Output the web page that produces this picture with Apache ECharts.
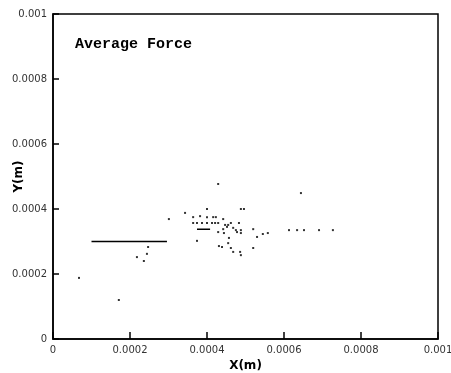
<!DOCTYPE html>
<html>
<head>
<meta charset="utf-8">
<script src="https://cdn.jsdelivr.net/npm/echarts@6/dist/echarts.min.js"></script>
<style>html,body{margin:0;padding:0;background:#fff}#c{width:451px;height:373px}</style>
</head>
<body>
<div id="c"></div>
<script>
var title = 'Average Force';
var xName = 'X(m)';
var yName = 'Y(m)';
var xTickLabels = ['0', '0.0002', '0.0004', '0.0006', '0.0008', '0.001'];
var yTickLabels = ['0', '0.0002', '0.0004', '0.0006', '0.0008', '0.001'];

// scattered force points [x, y]
var forcePoints = [
  [0.000429, 0.000477], [0.000343, 0.000388], [0.000301, 0.000369], [0.000400, 0.000400],
  [0.000488, 0.000400], [0.000496, 0.000400], [0.000364, 0.000375], [0.000382, 0.000378],
  [0.000400, 0.000375], [0.000416, 0.000375], [0.000423, 0.000375], [0.000442, 0.000369],
  [0.000364, 0.000357], [0.000374, 0.000357], [0.000387, 0.000357], [0.000400, 0.000357],
  [0.000413, 0.000357], [0.000421, 0.000357], [0.000429, 0.000357], [0.000462, 0.000357],
  [0.000483, 0.000357], [0.000447, 0.000351], [0.000452, 0.000345], [0.000455, 0.000351],
  [0.000442, 0.000338], [0.000468, 0.000342], [0.000475, 0.000335], [0.000478, 0.000329],
  [0.000488, 0.000335], [0.000488, 0.000326], [0.000520, 0.000338], [0.000558, 0.000326],
  [0.000545, 0.000323], [0.000530, 0.000314], [0.000429, 0.000329], [0.000444, 0.000326],
  [0.000457, 0.000311], [0.000455, 0.000295], [0.000374, 0.000302], [0.000431, 0.000286],
  [0.000439, 0.000283], [0.000462, 0.000280], [0.000468, 0.000268], [0.000486, 0.000268],
  [0.000488, 0.000258], [0.000520, 0.000280], [0.000644, 0.000449], [0.000613, 0.000335],
  [0.000634, 0.000335], [0.000652, 0.000335], [0.000691, 0.000335], [0.000727, 0.000335],
  [0.000247, 0.000283], [0.000244, 0.000262], [0.000218, 0.000252], [0.000236, 0.000240],
  [0.0000675, 0.000188], [0.000171, 0.000120]
];
// short horizontal segments
var segmentA = [[0.000100, 0.000300], [0.000296, 0.000300]];
var segmentB = [[0.000374, 0.000338], [0.000408, 0.000338]];

function fmt(labels) {
  return function (v) {
    var i = Math.round(v / 0.0002);
    return labels[i] !== undefined ? labels[i] : '';
  };
}

var chart = echarts.init(document.getElementById('c'));
chart.setOption({
  animation: false,
  backgroundColor: '#fff',
  graphic: [{
    type: 'text', left: 75, top: 37,
    style: { text: title, font: 'bold 15px "Liberation Mono"', fill: '#000' }
  }],
  grid: { left: 53, right: 13, top: 14, bottom: 34, containLabel: false, outerBoundsMode: 'none', show: true, borderColor: '#000', borderWidth: 1.5, backgroundColor: '#fff' },
  xAxis: {
    type: 'value', min: 0, max: 0.001, interval: 0.0002,
    name: xName, nameLocation: 'middle', nameGap: 21, nameMoveOverlap: false,
    nameTextStyle: { fontFamily: 'DejaVu Sans', fontWeight: 'bold', fontSize: 12, color: '#000' },
    axisLine: { lineStyle: { color: '#000', width: 1.5 } },
    axisTick: { inside: true, length: 7, lineStyle: { color: '#000', width: 1.5 } },
    axisLabel: { formatter: fmt(xTickLabels), fontFamily: 'DejaVu Sans', fontSize: 10, color: '#333', margin: 6 },
    splitLine: { show: false }
  },
  yAxis: {
    type: 'value', min: 0, max: 0.001, interval: 0.0002,
    name: yName, nameLocation: 'middle', nameGap: 28, nameRotate: 90, nameMoveOverlap: false,
    nameTextStyle: { fontFamily: 'DejaVu Sans', fontWeight: 'bold', fontSize: 12, color: '#000' },
    axisLine: { lineStyle: { color: '#000', width: 1.5 } },
    axisTick: { inside: true, length: 6, lineStyle: { color: '#000', width: 1.5 } },
    axisLabel: { formatter: fmt(yTickLabels), fontFamily: 'DejaVu Sans', fontSize: 10, color: '#333', margin: 6 },
    splitLine: { show: false }
  },
  series: [
    { type: 'scatter', data: forcePoints, symbol: 'rect', symbolSize: 2, itemStyle: { color: '#000' } },
    { type: 'line', data: segmentA, symbol: 'none', lineStyle: { color: '#000', width: 1.5 } },
    { type: 'line', data: segmentB, symbol: 'none', lineStyle: { color: '#000', width: 1.5 } }
  ]
});
</script>
</body>
</html>
